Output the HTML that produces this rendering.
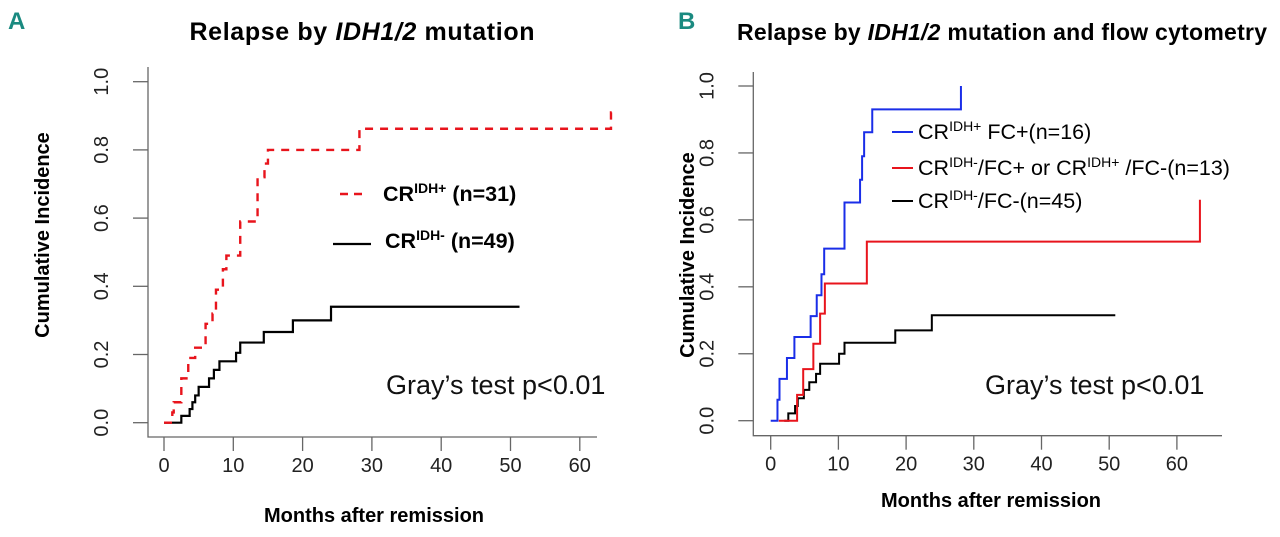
<!DOCTYPE html>
<html><head><meta charset="utf-8"><style>
body{margin:0;background:#fff;}
svg{display:block;font-family:"Liberation Sans",Arial,sans-serif;}
</style></head><body>
<svg id="fig" width="1280" height="537" viewBox="0 0 1280 537">
  <text x="8" y="29" font-size="24" font-weight="bold" fill="#1a8a80">A</text>
  <text x="678" y="29" font-size="24" font-weight="bold" fill="#1a8a80">B</text>
  <text x="362" y="40" font-size="25" font-weight="bold" text-anchor="middle" textLength="345">Relapse by <tspan font-style="italic">IDH1/2</tspan> mutation</text>
  <text x="1002" y="40" font-size="23" font-weight="bold" text-anchor="middle" textLength="530">Relapse by <tspan font-style="italic">IDH1/2</tspan> mutation and flow cytometry</text>
  <g id="pa"></g>
  <g id="pb"></g>
</svg>
<script>
// Panel A data
const aRedT = [0,1.2,1.4,2.5,3.5,4.5,6,7,7.5,8.5,9,11,13.5,14.5,15,28.2,64.5];
const aRedV = [0,0.03,0.06,0.13,0.19,0.22,0.29,0.32,0.39,0.45,0.49,0.59,0.72,0.76,0.80,0.862,0.91];
const aRedEnd = 64.8;
const aBlkT = [0,2.5,3.7,4.1,4.5,5,6.5,7.2,8,10.4,11,14.4,18.6,24.1];
const aBlkV = [0,0.02,0.04,0.06,0.08,0.105,0.13,0.155,0.18,0.205,0.235,0.266,0.30,0.34];
const aBlkEnd = 51.3;
// Panel B data
const bBluT = [0,1.0,1.3,2.4,3.5,5.9,6.8,7.5,7.9,10.9,13.2,13.5,13.8,15.0,28.1];
const bBluV = [0,0.0625,0.125,0.1875,0.25,0.3125,0.375,0.4375,0.514,0.652,0.72,0.79,0.862,0.93,1.0];
const bBluEnd = 28.1;
const bRedT = [1.2,3.9,4.8,6.3,7.3,8.0,14.2,63.4];
const bRedV = [0,0.077,0.154,0.23,0.32,0.41,0.535,0.66];
const bRedEnd = 63.4;
const bBlkT = [2.0,2.6,3.6,4.0,4.9,5.7,6.7,7.3,10.1,10.9,18.4,23.8];
const bBlkV = [0,0.022,0.044,0.067,0.092,0.115,0.14,0.17,0.2,0.233,0.27,0.315];
const bBlkEnd = 50.9;
const xTicks = [0,10,20,30,40,50,60];
const yTicks = [0,0.2,0.4,0.6,0.8,1.0];

const NS="http://www.w3.org/2000/svg";
function mk(tag,parent,attrs){const e=document.createElementNS(NS,tag);for(const k in attrs)e.setAttribute(k,attrs[k]);parent.appendChild(e);return e;}

function panel(g,cfg){
  const X=t=>cfg.x0+t*cfg.xs, Y=v=>cfg.y0-v*cfg.ys;
  const ax=mk('path',g,{d:`M${cfg.axL},${cfg.axTop}V${cfg.axB}H${cfg.axR}`,stroke:'#666',fill:'none','stroke-width':1.3});
  
  
  yTicks.forEach(v=>{
    const tk=mk('line',g,{x1:cfg.axL-15,x2:cfg.axL,y1:Y(v),y2:Y(v),stroke:'#666','stroke-width':1.3});
    
    
    const tx=mk('text',g,{x:0,y:0,transform:`translate(${cfg.axL-46},${Y(v)}) rotate(-90)`,'text-anchor':'middle','dominant-baseline':'central','font-size':20,fill:'#222'});
    tx.textContent=v.toFixed(1);
    
    
  });
  xTicks.forEach(t=>{
    const tk=mk('line',g,{x1:X(t),x2:X(t),y1:cfg.axB,y2:cfg.axB+14,stroke:'#666','stroke-width':1.3});
    
    
    const tx=mk('text',g,{x:X(t),y:cfg.axB+35,'text-anchor':'middle','font-size':20,fill:'#222'});
    tx.textContent=t;
    
    
  });
  const yt=mk('text',g,{x:0,y:0,transform:`translate(${cfg.ytX},${cfg.ytY}) rotate(-90)`,'text-anchor':'middle','dominant-baseline':'central','font-size':20,'font-weight':'bold'});
  yt.textContent='Cumulative Incidence';
  
  
  const xt=mk('text',g,{x:cfg.xtX,y:cfg.xtY,'text-anchor':'middle','font-size':20,'font-weight':'bold'});
  xt.textContent='Months after remission';
  
  
  const gt=mk('text',g,{x:cfg.gX,y:cfg.gY,'font-size':27,fill:'#111'});
  gt.textContent='Gray\u2019s test p<0.01';
  
  
  return {X,Y};
}
function step(g,s,T,V,end,style,name){
  let d=`M${s.X(T[0])},${s.Y(V[0])}`;
  for(let i=1;i<T.length;i++){d+=`H${s.X(T[i])}V${s.Y(V[i])}`;}
  d+=`H${s.X(end)}`;
  const p=mk('path',g,Object.assign({d:d,fill:'none'},style));
  
  
}
const pa=document.getElementById('pa'), pb=document.getElementById('pb');
const sa=panel(pa,{x0:164,xs:6.93,y0:422.7,ys:341,axL:148,axTop:67,axB:437,axR:597,ytX:43,ytY:235,xtX:374,xtY:522,gX:386,gY:394});
step(pa,sa,aBlkT,aBlkV,aBlkEnd,{stroke:'#000','stroke-width':2.2},'series-idh-negative');
step(pa,sa,aRedT,aRedV,aRedEnd,{stroke:'#e8141c','stroke-width':2.4,'stroke-dasharray':'8,7'},'series-idh-positive');
const sb=panel(pb,{x0:770.7,xs:6.77,y0:420.7,ys:334.7,axL:753.3,axTop:72,axB:435.7,axR:1222,ytX:688,ytY:255,xtX:991,xtY:507,gX:985,gY:394});
step(pb,sb,bBlkT,bBlkV,bBlkEnd,{stroke:'#000','stroke-width':2},'series-idh-neg-fc-neg');
step(pb,sb,bRedT,bRedV,bRedEnd,{stroke:'#e8141c','stroke-width':2},'series-mixed');
step(pb,sb,bBluT,bBluV,bBluEnd,{stroke:'#1a2ee8','stroke-width':2},'series-idh-pos-fc-pos');
</script>
<script>
// Legends
(function(){
const svg=document.getElementById('fig');
const NS="http://www.w3.org/2000/svg";
const html=`
<g>
 <line x1="340" x2="368" y1="194" y2="194" stroke="#e8141c" stroke-width="2.4" stroke-dasharray="8,6"/>
 <text x="383" y="201" font-size="21.5" font-weight="bold">CR<tspan font-size="14" dy="-8">IDH+</tspan><tspan dy="8"> (n=31)</tspan></text>
 <line x1="333" x2="371" y1="244" y2="244" stroke="#000" stroke-width="2.2"/>
 <text x="385" y="248" font-size="21.5" font-weight="bold">CR<tspan font-size="14" dy="-8">IDH-</tspan><tspan dy="8"> (n=49)</tspan></text>
</g>
<g>
 <line x1="892" x2="913" y1="132" y2="132" stroke="#1a2ee8" stroke-width="2"/>
 <text x="918" y="139" font-size="21.5">CR<tspan font-size="14" dy="-8">IDH+</tspan><tspan dy="8"> FC+(n=16)</tspan></text>
 <line x1="892" x2="913" y1="168" y2="168" stroke="#e8141c" stroke-width="2"/>
 <text x="918" y="175" font-size="21.5">CR<tspan font-size="14" dy="-8">IDH-</tspan><tspan dy="8">/FC+ or CR</tspan><tspan font-size="14" dy="-8">IDH+</tspan><tspan dy="8"> /FC-(n=13)</tspan></text>
 <line x1="892" x2="913" y1="201" y2="201" stroke="#000" stroke-width="2"/>
 <text x="918" y="208" font-size="21.5">CR<tspan font-size="14" dy="-8">IDH-</tspan><tspan dy="8">/FC-(n=45)</tspan></text>
</g>`;
const tmp=document.createElementNS(NS,'g');
tmp.innerHTML=html;
while(tmp.firstChild){svg.appendChild(tmp.firstChild);}
})();
</script>
</body></html>
